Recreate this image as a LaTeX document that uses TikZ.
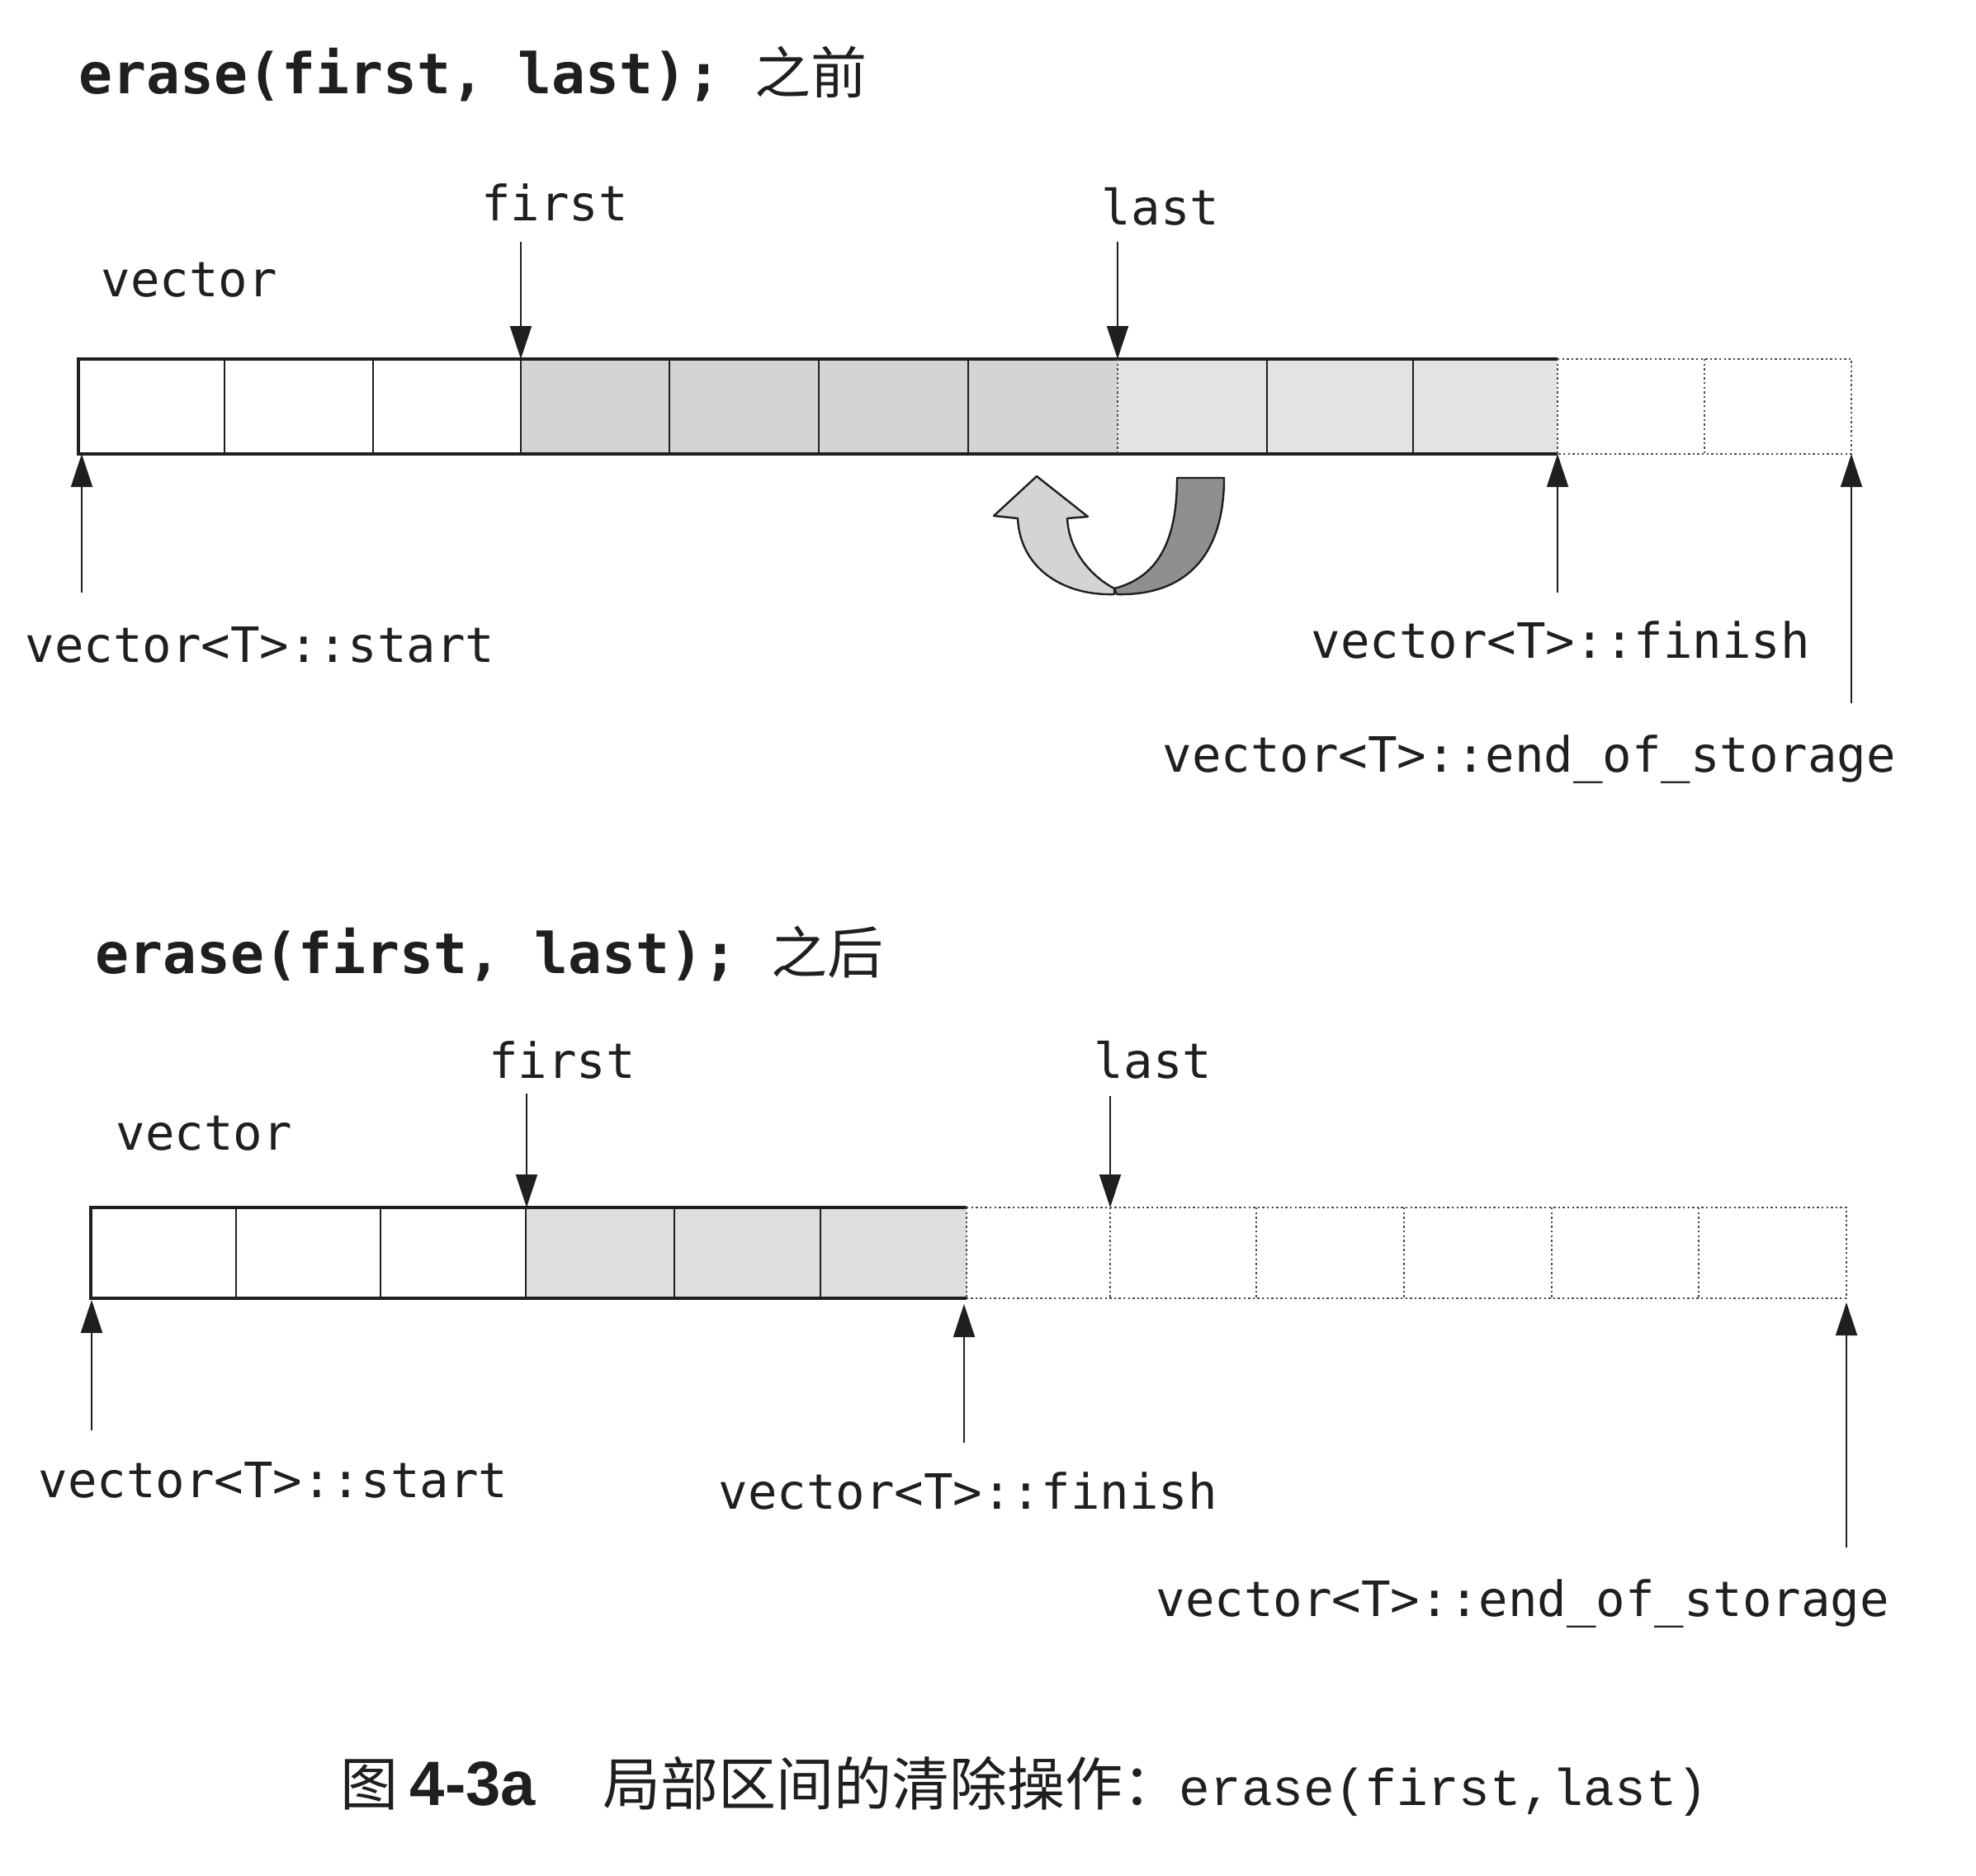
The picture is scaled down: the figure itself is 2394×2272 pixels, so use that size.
\documentclass[tikz,border=0pt]{standalone}
\usepackage{fontspec}
\setmainfont{DejaVu Sans}
\newfontfamily\monof{DejaVu Sans Mono}
\newfontfamily\cjk{Noto Sans CJK SC}
\newfontfamily\capmono{Liberation Mono}
\newfontfamily\capsans{Liberation Sans}
\usetikzlibrary{arrows.meta}
\definecolor{shadeA}{gray}{0.83}
\definecolor{shadeB}{gray}{0.89}
\definecolor{shadeC}{gray}{0.87}
\definecolor{ulight}{gray}{0.83}
\definecolor{udark}{gray}{0.56}
\definecolor{ink}{gray}{0.12}
\tikzset{
  barline/.style={draw=ink, line width=0.9pt},
  divline/.style={draw=ink, line width=0.55pt},
  dotline/.style={draw=ink!80, line width=0.5pt, dash pattern=on 0.6pt off 0.8pt},
  ptr/.style={draw=ink, line width=0.5pt, -{Triangle[length=10pt,width=6.5pt]}},
  lbl/.style={font=\monof\fontsize{14.75}{16}\selectfont, text=ink, inner sep=0pt, anchor=base west},
  ttl/.style={font=\monof\bfseries\fontsize{17}{20}\selectfont, text=ink, inner sep=0pt, anchor=base west},
  uband/.style={draw=ink, line width=0.6pt, line join=round},
}
\begin{document}
\begin{tikzpicture}[x=0.25pt,y=-0.25pt]
\useasboundingbox (0,0) rectangle (2394,2272);
\fill[white] (0,0) rectangle (2394,2272);

% ---------------- top: before ----------------
\node[ttl] (t1) at (95,113) {erase(first, last); {\cjk\mdseries 之前}};
\node[lbl] (vec1) at (122,359) {vector};
\node[lbl, anchor=base] (first1) at (672,267) {first};
\node[lbl, anchor=base] (last1) at (1406,272) {last};

\fill[shadeA] (631,435) rectangle (1354,550);
\fill[shadeB] (1354,435) rectangle (1887,550);
\draw[barline] (1887,435) -- (95,435) -- (95,550) -- (1887,550);
\draw[dotline] (1887,435) -- (2243,435) -- (2243,550) -- (1887,550);
\foreach \x in {272,452,631,811,992,1173,1535,1712} \draw[divline] (\x,435) -- (\x,550);
\foreach \x in {1354,1887,2065} \draw[dotline] (\x,435) -- (\x,550);

\coordinate (f1a) at (631,293); \coordinate (f1b) at (631,435);
\coordinate (l1a) at (1354,293); \coordinate (l1b) at (1354,435);
\draw[ptr] (f1a) -- (f1b);
\draw[ptr] (l1a) -- (l1b);

\coordinate (s1a) at (99,718); \coordinate (s1b) at (99,550);
\coordinate (e1a) at (1887,718); \coordinate (e1b) at (1887,550);
\coordinate (o1a) at (2243,852); \coordinate (o1b) at (2243,550);
\draw[ptr] (s1a) -- (s1b);
\draw[ptr] (e1a) -- (e1b);
\draw[ptr] (o1a) -- (o1b);
\node[lbl] (start1) at (30,802) {vector<T>::start};
\node[lbl] (finish1) at (1588,797) {vector<T>::finish};
\node[lbl] (eos1) at (1408,935) {vector<T>::end\_of\_storage};

% U-turn arrow
\draw[uband, fill=udark] (1350,713) .. controls (1400,700) and (1426,660) .. (1426,579)
  -- (1483,579) .. controls (1483,680) and (1430,722) .. (1353,720) -- cycle;
\draw[uband, fill=ulight] (1350,713) .. controls (1325,700) and (1295,670) .. (1293,628)
  -- (1318,626) -- (1256,577) -- (1204,625) -- (1233,628)
  .. controls (1236,690) and (1290,722) .. (1350,720) -- cycle;

% ---------------- bottom: after ----------------
\node[ttl] (t2) at (115,1179) {erase(first, last); {\cjk\mdseries 之后}};
\node[lbl] (vec2) at (140,1393) {vector};
\node[lbl, anchor=base] (first2) at (681,1306) {first};
\node[lbl, anchor=base] (last2) at (1397,1306) {last};

\fill[shadeC] (637,1463) rectangle (1171,1573);
\draw[barline] (1171,1463) -- (110,1463) -- (110,1573) -- (1171,1573);
\draw[dotline] (1171,1463) -- (2237,1463) -- (2237,1573) -- (1171,1573);
\foreach \x in {286,461,637,817,994} \draw[divline] (\x,1463) -- (\x,1573);
\foreach \x in {1171,1345,1522,1701,1880,2058} \draw[dotline] (\x,1463) -- (\x,1573);

\coordinate (f2a) at (638,1325); \coordinate (f2b) at (638,1463);
\coordinate (l2a) at (1345,1328); \coordinate (l2b) at (1345,1463);
\draw[ptr] (f2a) -- (f2b);
\draw[ptr] (l2a) -- (l2b);

\coordinate (s2a) at (111,1733); \coordinate (s2b) at (111,1575);
\coordinate (e2a) at (1168,1748); \coordinate (e2b) at (1168,1580);
\coordinate (o2a) at (2237,1875); \coordinate (o2b) at (2237,1578);
\draw[ptr] (s2a) -- (s2b);
\draw[ptr] (e2a) -- (e2b);
\draw[ptr] (o2a) -- (o2b);
\node[lbl] (start2) at (46,1814) {vector<T>::start};
\node[lbl] (finish2) at (870,1828) {vector<T>::finish};
\node[lbl] (eos2) at (1400,1958) {vector<T>::end\_of\_storage};

% ---------------- caption ----------------
\node[inner sep=0pt, anchor=base west, text=ink, font=\cjk\fontsize{17.5}{20}\selectfont] (cap1) at (412,2187) {图};
\node[inner sep=0pt, anchor=base west, text=ink, font=\capsans\bfseries\fontsize{19}{20}\selectfont] (cap2) at (496,2187) {4-3a};
\node[inner sep=0pt, anchor=base west, text=ink, font=\cjk\fontsize{17.5}{20}\selectfont] (cap3) at (730,2187) {局部区间的清除操作：};
\node[inner sep=0pt, anchor=base west, text=ink, font=\capmono\fontsize{15.7}{18}\selectfont] (cap4) at (1428,2187) {erase(first,last)};
\end{tikzpicture}
\end{document}
